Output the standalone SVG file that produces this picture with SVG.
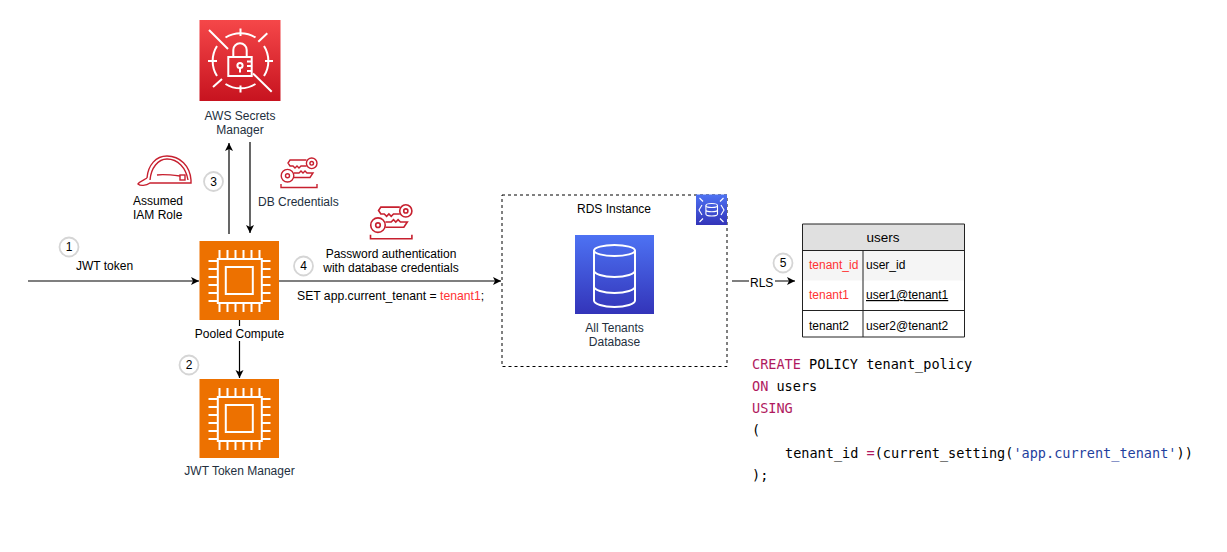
<svg xmlns="http://www.w3.org/2000/svg" width="1227" height="552" viewBox="0 0 1227 552">
<style>
text{font-family:"Liberation Sans",Arial,sans-serif;font-size:12px;fill:#000}
.aws{fill:#232F3E}
.mid{text-anchor:middle}
.red{fill:#FF3333}
.num{font-size:12px;text-anchor:middle}
.badge{fill:#fff;stroke:#D5D5D5;stroke-width:1.8}
.conn{fill:none;stroke:#000;stroke-width:1.2;marker-end:url(#arrow)}
.wi{fill:none;stroke:#fff;stroke-width:2}
.rd{fill:none;stroke:#C7202F;stroke-width:1.4}
.cell{fill:none;stroke:#222;stroke-width:1}
.code{font-family:"DejaVu Sans Mono","Liberation Mono",monospace;font-size:13.55px}
.kw{fill:#B01A5E}
.st{fill:#1F3F9E}
.tb{font-size:12px}
</style>
<defs>
<marker id="arrow" markerWidth="9" markerHeight="9" refX="8" refY="4.5" orient="auto" markerUnits="userSpaceOnUse"><path d="M0 0.5L8 4.5L0 8.5L2 4.5Z" fill="#000"/></marker>
<linearGradient id="gr" x1="0" y1="0" x2="0" y2="1"><stop offset="0" stop-color="#F54749"/><stop offset="1" stop-color="#C7131F"/></linearGradient>
<linearGradient id="gb" x1="0" y1="0" x2="0" y2="1"><stop offset="0" stop-color="#4D72F3"/><stop offset="1" stop-color="#3334B9"/></linearGradient>
<g id="chip">
<rect width="79.5" height="79" fill="#ED7100"/>
<rect x="18.3" y="18" width="44" height="44" class="wi"/>
<rect x="26.3" y="26" width="27" height="27" class="wi"/>
<path class="wi" d="M20 9V18M28 9V18M36 9V18M44 9V18M52 9V18M60 9V18M20 62V71M28 62V71M36 62V71M44 62V71M52 62V71M60 62V71M9 20H18M9 28H18M9 36H18M9 44H18M9 52H18M9 60H18M62 20H71M62 28H71M62 36H71M62 44H71M62 52H71M62 60H71"/>
</g>
<g id="keys">
<path class="rd" d="M0 28V31.500H36V28"/>
<circle cx="6.500" cy="19.700" r="6.300" class="rd"/><circle cx="6.500" cy="19.700" r="2" class="rd"/>
<path class="rd" d="M13 17H18L20 15L22 17L24 15L26 17H32L29 21.500H13"/>
<circle cx="30.700" cy="7.300" r="5.300" class="rd"/><circle cx="30.700" cy="7.300" r="1.800" class="rd"/>
<path class="rd" d="M25.500 4H9L7 7L9 10H12L14 12L16 10L18 12L20 10H25.500"/>
</g>
</defs>

<g id="connectors">
<path class="conn" d="M28 281H199"/>
<path class="conn" d="M229 234V143"/>
<path class="conn" d="M250 142V233"/>
<path class="conn" d="M279 281H501"/>
<path class="conn" d="M239.500 320V378"/>
<path class="conn" d="M732 281H795"/>
</g>

<g id="secrets-manager">
<rect x="199.500" y="20" width="81" height="81" fill="url(#gr)"/>
<g fill="none" stroke="#fff" stroke-width="2">
<path d="M225.500 37.500A28 28 0 0 1 255.500 37.500M264 46A28 28 0 0 1 264 76M255.500 84A28 28 0 0 1 225.500 84M217 76A28 28 0 0 1 217 46"/>
<path d="M209 30L228 49M253 73.500L271.700 91.700M240.500 28.500V36M240.500 85.500V92.500M208 61H217M265 61H273M258.300 41.700L267.300 33.300M213 87L222 79"/>
<rect x="228.300" y="57" width="23.400" height="19"/>
<path d="M233.300 57V50A6.700 6.700 0 0 1 246.700 50V57"/>
<circle cx="240" cy="65.500" r="2.600"/><path d="M240 68V72.500M247 61.500H251.700M247 66H251.700M247 71H251.700"/>
</g>
<text class="aws mid" x="240" y="120">AWS Secrets</text>
<text class="aws mid" x="240" y="134">Manager</text>
</g>

<g id="iam-role">
<path class="rd" d="M147 178C148 165 156 156 167 156C180 156 190 166 191 180V183H150C146 186 140 186 138 184C140 181 144 180 147 178"/>
<path class="rd" d="M150 180C151 168 158 159 167 159C178 159 186 168 188 180M157 175C164 174 172 175 180 176"/>
<rect x="180" y="175" width="5" height="5" class="rd"/>
<text x="133" y="205">Assumed</text>
<text x="133" y="219">IAM Role</text>
</g>

<g id="db-credentials">
<use href="#keys" x="281" y="156"/>
<text class="aws" x="258" y="206">DB Credentials</text>
</g>

<g id="password-auth">
<use href="#keys" transform="translate(370.500 202.500) scale(1.150)"/>
<text class="mid" x="391" y="258">Password authentication</text>
<text class="mid" x="391" y="272">with database credentials</text>
<text x="297" y="300" style="font-size:12.2px">SET app.current_tenant = <tspan class="red">tenant1</tspan>;</text>
</g>

<g id="step-1"><circle class="badge" cx="69" cy="247" r="9.500"/><text class="num" x="69" y="251">1</text></g>
<g id="step-2"><circle class="badge" cx="189" cy="365" r="9.500"/><text class="num" x="189" y="369">2</text></g>
<g id="step-3"><circle class="badge" cx="213.500" cy="181.500" r="9.500"/><text class="num" x="213.500" y="185.500">3</text></g>
<g id="step-4"><circle class="badge" cx="303.500" cy="266" r="9.500"/><text class="num" x="303.500" y="270">4</text></g>
<g id="step-5"><circle class="badge" cx="783" cy="263" r="9.500"/><text class="num" x="783" y="267">5</text></g>

<text x="76" y="270">JWT token</text>

<g id="pooled-compute">
<use href="#chip" x="199.500" y="241"/>
<rect x="192" y="326" width="95" height="15" fill="#fff"/>
<text class="mid" x="239.500" y="338">Pooled Compute</text>
</g>

<g id="jwt-token-manager">
<use href="#chip" x="199.500" y="379"/>
<text class="aws mid" x="239.500" y="475">JWT Token Manager</text>
</g>

<g id="rds-instance">
<rect x="502" y="195" width="225" height="171.500" fill="#fff" stroke="#000" stroke-width="1" stroke-dasharray="3 3"/>
<text class="mid" x="614" y="213">RDS Instance</text>
<rect x="696" y="194.500" width="31" height="30.500" fill="url(#gb)"/>
<g fill="none" stroke="#fff" stroke-width="1.100">
<ellipse cx="711.700" cy="205.500" rx="5.800" ry="2"/>
<path d="M705.900 205.500V214A5.800 2 0 0 0 717.500 214V205.500M705.900 209.700A5.800 2 0 0 0 717.500 209.700"/>
<path d="M702 205L699 210L702 215M721 205L724 210L721 215M699.500 198L703 201.500M723.500 198L720 201.500M699.500 222L703 218.500M723.500 222L720 218.500"/>
</g>
</g>

<g id="all-tenants-database">
<rect x="575" y="235" width="79" height="79" fill="url(#gb)"/>
<g fill="none" stroke="#fff" stroke-width="2">
<ellipse cx="614.500" cy="250.500" rx="20.500" ry="5.500"/>
<path d="M594 250.500V300.500C594 304 603 307 614.500 307C626 307 635 304 635 300.500V250.500M594 270.500C594 274 603 277 614.500 277C626 277 635 274 635 270.500M594 286.500C594 290 603 293 614.500 293C626 293 635 290 635 286.500"/>
</g>
<text class="aws mid" x="614.500" y="332">All Tenants</text>
<text class="aws mid" x="614.500" y="346">Database</text>
</g>

<rect x="749" y="277" width="26" height="12" fill="#fff"/>
<text x="750" y="287">RLS</text>

<g id="users-table">
<rect x="802.500" y="224" width="162" height="26.500" fill="#E0E0E0"/>
<rect x="802.500" y="250.500" width="162" height="30" fill="#F5F5F5"/>
<path class="cell" d="M802.500 224H964.500V337H802.500ZM802.500 250.500H964.500M802.500 310.500H964.500M863 250.500V337"/>
<text class="mid" x="883" y="242" style="font-size:13.500px">users</text>
<text class="tb red" x="809" y="269">tenant_id</text>
<text class="tb" x="866" y="269" fill="#333">user_id</text>
<text class="tb red" x="809" y="299">tenant1</text>
<text class="tb" x="866" y="299" text-decoration="underline">user1@tenant1</text>
<text class="tb" x="809" y="330">tenant2</text>
<text class="tb" x="866" y="330">user2@tenant2</text>
</g>

<g id="policy-code">
<text class="code" x="752" y="369"><tspan class="kw">CREATE</tspan> POLICY tenant_policy</text>
<text class="code" x="752" y="391"><tspan class="kw">ON</tspan> users</text>
<text class="code" x="752" y="413"><tspan class="kw">USING</tspan></text>
<text class="code" x="752" y="435">(</text>
<text class="code" x="785" y="458">tenant_id <tspan class="kw">=</tspan>(current_setting(<tspan class="st">'app.current_tenant'</tspan>))</text>
<text class="code" x="752" y="480">);</text>
</g>
</svg>
